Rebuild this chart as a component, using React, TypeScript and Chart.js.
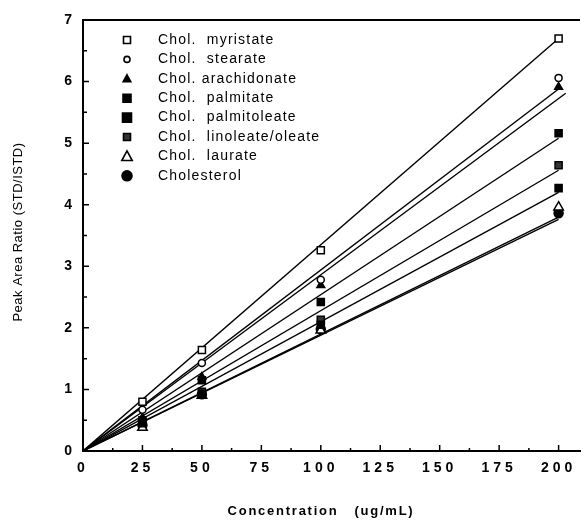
import React, { useEffect, useRef } from "react";
import { Chart, registerables } from "chart.js";

Chart.register(...registerables);

// ---- data ----
const CONCENTRATIONS = [25, 50, 100, 200];
const SERIES_NAMES = [
  "Chol.  myristate",
  "Chol.  stearate",
  "Chol. arachidonate",
  "Chol.  palmitate",
  "Chol.  palmitoleate",
  "Chol.  linoleate/oleate",
  "Chol.  laurate",
  "Cholesterol",
];
const MYRISTATE = [0.8, 1.64, 3.26, 6.7];
const STEARATE = [0.67, 1.43, 2.78, 6.06];
const ARACHIDONATE = [0.54, 1.2, 2.69, 5.91];
const PALMITATE = [0.5, 1.15, 2.42, 5.16];
const PALMITOLEATE = [0.45, 0.93, 2.05, 4.27];
const LINOLEATE_OLEATE = [0.47, 0.96, 2.13, 4.64];
const LAURATE = [0.38, 0.9, 1.96, 3.96];
const CHOLESTEROL = [0.42, 0.92, 1.98, 3.86];
const SERIES_VALUES = [
  MYRISTATE,
  STEARATE,
  ARACHIDONATE,
  PALMITATE,
  PALMITOLEATE,
  LINOLEATE_OLEATE,
  LAURATE,
  CHOLESTEROL,
];
// calibration (fit) lines: start at origin, end at these points
const FIT_START_X = 0;
const FIT_END_X = [200, 200, 203, 200, 200, 200, 200, 200];
const FIT_END_Y = [6.7, 5.88, 5.81, 5.08, 4.2, 4.56, 3.8, 3.76];

const X_TICKS = [0, 25, 50, 75, 100, 125, 150, 175, 200];
const X_MINOR = [12.5, 37.5, 62.5, 87.5, 112.5, 137.5, 162.5, 187.5];
const Y_TICKS = [0, 1, 2, 3, 4, 5, 6, 7];
const Y_MINOR = [0.5, 1.5, 2.5, 3.5, 4.5, 5.5, 6.5];
const X_TITLE = "Concentration   (ug/mL)";
const Y_TITLE = "Peak Area Ratio (STD/ISTD)";

// ---- styles ----
const MARKERS = [
  { style: "rect", radius: 5, fill: "#fff", legendR: 3.5 },
  { style: "circle", radius: 3.5, fill: "#fff", legendR: 3 },
  { style: "triangle", radius: 4.5, fill: "#000", legendR: 4 },
  { style: "rect", radius: 5, fill: "#000", legendR: 4 },
  { style: "rect", radius: 5, fill: "#000", legendR: 4.5 },
  { style: "rect", radius: 5, fill: "#333", legendR: 3.5 },
  { style: "triangle", radius: 5.5, fill: "#fff", legendR: 5.5 },
  { style: "circle", radius: 4.5, fill: "#000", legendR: 5 },
];

const FONT = "'Liberation Sans', Arial, sans-serif";

function drawMarker(ctx: CanvasRenderingContext2D, style: string, x: number, y: number, r: number, fill: string) {
  ctx.save();
  ctx.beginPath();
  if (style === "rect") {
    ctx.rect(x - r, y - r, 2 * r, 2 * r);
  } else if (style === "circle") {
    ctx.arc(x, y, r, 0, Math.PI * 2);
  } else {
    ctx.moveTo(x, y - r);
    ctx.lineTo(x + r * 0.95, y + r * 0.75);
    ctx.lineTo(x - r * 0.95, y + r * 0.75);
    ctx.closePath();
  }
  ctx.fillStyle = fill;
  ctx.fill();
  ctx.lineWidth = 1.6;
  ctx.strokeStyle = "#000";
  ctx.stroke();
  ctx.restore();
}

const decorPlugin = {
  id: "decor",
  beforeDraw(chart: any) {
    chart.ctx.letterSpacing = "4px";
  },
  beforeDatasetsDraw(chart: any) {
    const ctx = chart.ctx as CanvasRenderingContext2D;
    ctx.letterSpacing = "0px";
    const { left, right, top, bottom } = chart.chartArea;
    const xs = chart.scales.x;
    const ys = chart.scales.y;
    ctx.save();
    ctx.strokeStyle = "#000";
    ctx.lineWidth = 1.5;
    ctx.beginPath();
    X_TICKS.forEach((v) => {
      const p = xs.getPixelForValue(v);
      ctx.moveTo(p, bottom);
      ctx.lineTo(p, bottom - 6);
    });
    X_MINOR.forEach((v) => {
      const p = xs.getPixelForValue(v);
      ctx.moveTo(p, bottom);
      ctx.lineTo(p, bottom - 3);
    });
    Y_TICKS.forEach((v) => {
      const p = ys.getPixelForValue(v);
      ctx.moveTo(left, p);
      ctx.lineTo(left + 6, p);
    });
    Y_MINOR.forEach((v) => {
      const p = ys.getPixelForValue(v);
      ctx.moveTo(left, p);
      ctx.lineTo(left + 4, p);
    });
    ctx.stroke();
    // top frame line
    ctx.lineWidth = 2;
    ctx.beginPath();
    ctx.moveTo(left, top);
    ctx.lineTo(right, top);
    ctx.stroke();
    ctx.restore();
  },
  afterDraw(chart: any) {
    const ctx = chart.ctx as CanvasRenderingContext2D;
    ctx.save();
    // legend
    const mx = 127;
    const tx = 158;
    const y0 = 40;
    const dy = 19.4;
    ctx.fillStyle = "#000";
    ctx.font = `14px ${FONT}`;
    ctx.letterSpacing = "1.2px";
    ctx.textBaseline = "middle";
    ctx.textAlign = "left";
    SERIES_NAMES.forEach((name, i) => {
      const y = y0 + i * dy;
      const m = MARKERS[i];
      drawMarker(ctx, m.style, mx, y, m.legendR, m.fill);
      ctx.fillStyle = "#000";
      ctx.fillText(name, tx, y);
    });
    // axis titles
    ctx.font = `bold 13px ${FONT}`;
    ctx.letterSpacing = "1.75px";
    ctx.textAlign = "center";
    ctx.fillText(X_TITLE, 321, 511);
    ctx.font = `13px ${FONT}`;
    ctx.letterSpacing = "0.5px";
    ctx.translate(18, 232);
    ctx.rotate(-Math.PI / 2);
    ctx.fillText(Y_TITLE, 0, 0);
    ctx.restore();
  },
};

export default function App() {
  const ref = useRef<HTMLCanvasElement>(null);
  useEffect(() => {
    if (!ref.current) return;
    const pointSets = SERIES_VALUES.map((vals, i) => ({
      label: SERIES_NAMES[i],
      data: vals.map((v, j) => ({ x: CONCENTRATIONS[j], y: v })),
      showLine: false,
      pointStyle: MARKERS[i].style,
      pointRadius: MARKERS[i].radius,
      pointBackgroundColor: MARKERS[i].fill,
      pointBorderColor: "#000",
      pointBorderWidth: 1.5,
      order: 1,
    }));
    const lineSets = FIT_END_Y.map((v, i) => ({
      label: SERIES_NAMES[i] + " fit",
      data: [
        { x: FIT_START_X, y: 0 },
        { x: FIT_END_X[i], y: v },
      ],
      showLine: true,
      borderColor: "#000",
      borderWidth: 1.4,
      pointRadius: 0,
      order: 2,
    }));
    const chart = new Chart(ref.current, {
      type: "scatter",
      data: { datasets: [...lineSets, ...pointSets] as any },
      options: {
        animation: false,
        responsive: false,
        devicePixelRatio: 1,
        layout: { padding: { top: 20, right: 0, left: 0, bottom: 0 } },
        plugins: { legend: { display: false }, tooltip: { enabled: false } },
        scales: {
          x: {
            type: "linear",
            min: 0,
            max: 209,
            grid: { display: false, drawTicks: false },
            border: { display: true, color: "#000", width: 2 },
            afterBuildTicks: (s: any) => {
              s.ticks = X_TICKS.map((v) => ({ value: v }));
            },
            afterFit: (s: any) => {
              s.height = 71;
            },
            ticks: {
              color: "#000",
              padding: 9,
              maxRotation: 0,
              font: { family: FONT, size: 14, weight: "bold" },
            },
          },
          y: {
            type: "linear",
            min: 0,
            max: 7,
            grid: { display: false, drawTicks: false },
            border: { display: true, color: "#000", width: 2 },
            afterBuildTicks: (s: any) => {
              s.ticks = Y_TICKS.map((v) => ({ value: v }));
            },
            afterFit: (s: any) => {
              s.width = 83;
            },
            ticks: {
              color: "#000",
              padding: 7,
              font: { family: FONT, size: 14, weight: "bold" },
            },
          },
        },
      } as any,
      plugins: [decorPlugin],
    });
    return () => chart.destroy();
  }, []);
  return (
    <div style={{ position: "fixed", left: 0, top: 0, width: 587, height: 522, background: "#fff" }}>
      <canvas ref={ref} width={587} height={522} />
    </div>
  );
}
